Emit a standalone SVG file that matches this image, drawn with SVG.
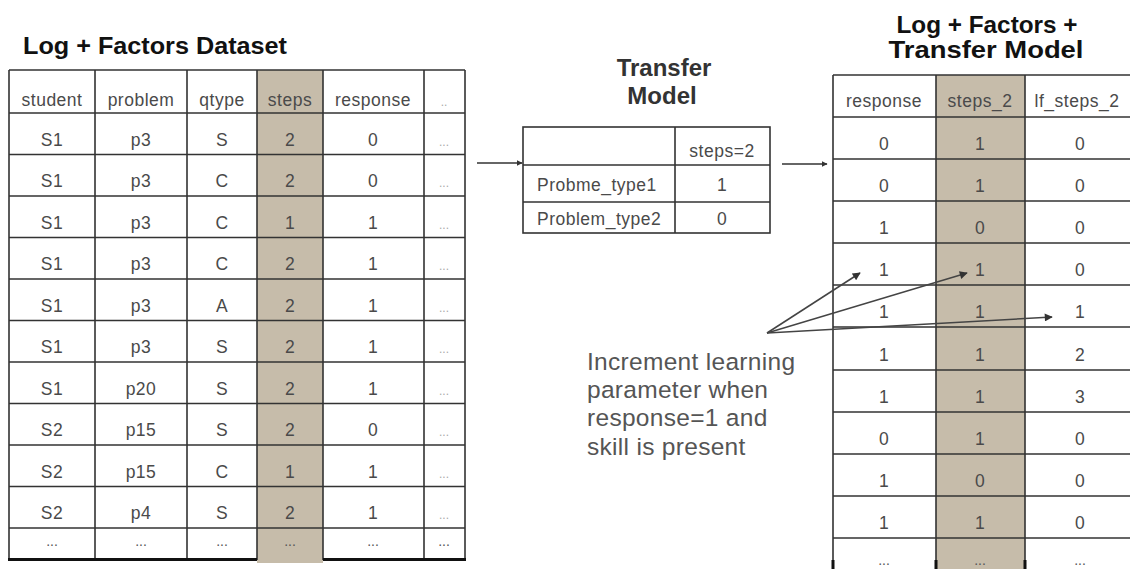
<svg xmlns="http://www.w3.org/2000/svg" width="1130" height="569" viewBox="0 0 1130 569">
<defs>
<style>
.title{font-family:"Liberation Sans",Arial,sans-serif;font-weight:bold;fill:#111;}
.t{font-family:"Liberation Sans",Arial,sans-serif;font-size:17.5px;fill:#4a4a4a;text-anchor:middle;letter-spacing:0.5px;}
.tl{font-family:"Liberation Sans",Arial,sans-serif;font-size:17.5px;fill:#4a4a4a;letter-spacing:0.5px;}
.d{font-family:"Liberation Sans",Arial,sans-serif;font-size:12px;fill:#aaa;text-anchor:middle;}
.dd{font-family:"Liberation Sans",Arial,sans-serif;font-size:14px;fill:#555;text-anchor:middle;}
.note{font-family:"Liberation Sans",Arial,sans-serif;font-size:24.5px;fill:#555;letter-spacing:0.3px;}
.shade{fill:#c6bcaa;}
.grid{stroke:#333;stroke-width:1.6;fill:none;}
.conn{stroke:#333;stroke-width:1.6;fill:none;}
.ann{stroke:#444;stroke-width:1.5;fill:none;}
</style>
<marker id="ah" viewBox="0 0 10 10" refX="9" refY="5" markerWidth="6" markerHeight="6" markerUnits="userSpaceOnUse" orient="auto">
<path d="M0,0 L10,5 L0,10 z" fill="#333"/>
</marker>
<marker id="ah2" viewBox="0 0 10 10" refX="9" refY="5" markerWidth="10" markerHeight="8" markerUnits="userSpaceOnUse" orient="auto">
<path d="M0,0 L10,5 L0,10 z" fill="#333"/>
</marker>
</defs>
<rect width="1130" height="569" fill="#fff"/>

<g id="dataset">
<text class="title" x="23" y="54" font-size="23" textLength="264" lengthAdjust="spacingAndGlyphs">Log + Factors Dataset</text>
<rect class="shade" x="257" y="70" width="66" height="493"/>
<g class="grid">
<path d="M9,70 H465 M9,113 H465 M9,154.5 H465 M9,196 H465 M9,237.5 H465 M9,279 H465 M9,320.5 H465 M9,362 H465 M9,403.5 H465 M9,445 H465 M9,486.5 H465 M9,528 H465"/>
<path d="M9,70 V560 M95,70 V560 M187,70 V560 M257,70 V560 M323,70 V560 M424,70 V560 M465,70 V560"/>
</g>
<path d="M8,559.5 H257 M323,559.5 H466" stroke="#111" stroke-width="3"/>
<g>
<text class="t" x="52" y="106">student</text><text class="t" x="141" y="106">problem</text><text class="t" x="222" y="106">qtype</text><text class="t" x="290" y="106">steps</text><text class="t" x="373" y="106">response</text><text class="d" x="444" y="106">..</text>
<text class="t" x="52" y="145.5">S1</text><text class="t" x="141" y="145.5">p3</text><text class="t" x="222" y="145.5">S</text><text class="t" x="290" y="145.5">2</text><text class="t" x="373" y="145.5">0</text><text class="d" x="444" y="145.5">...</text>
<text class="t" x="52" y="187">S1</text><text class="t" x="141" y="187">p3</text><text class="t" x="222" y="187">C</text><text class="t" x="290" y="187">2</text><text class="t" x="373" y="187">0</text><text class="d" x="444" y="187">...</text>
<text class="t" x="52" y="228.5">S1</text><text class="t" x="141" y="228.5">p3</text><text class="t" x="222" y="228.5">C</text><text class="t" x="290" y="228.5">1</text><text class="t" x="373" y="228.5">1</text><text class="d" x="444" y="228.5">...</text>
<text class="t" x="52" y="270">S1</text><text class="t" x="141" y="270">p3</text><text class="t" x="222" y="270">C</text><text class="t" x="290" y="270">2</text><text class="t" x="373" y="270">1</text><text class="d" x="444" y="270">...</text>
<text class="t" x="52" y="311.5">S1</text><text class="t" x="141" y="311.5">p3</text><text class="t" x="222" y="311.5">A</text><text class="t" x="290" y="311.5">2</text><text class="t" x="373" y="311.5">1</text><text class="d" x="444" y="311.5">...</text>
<text class="t" x="52" y="353">S1</text><text class="t" x="141" y="353">p3</text><text class="t" x="222" y="353">S</text><text class="t" x="290" y="353">2</text><text class="t" x="373" y="353">1</text><text class="d" x="444" y="353">...</text>
<text class="t" x="52" y="394.5">S1</text><text class="t" x="141" y="394.5">p20</text><text class="t" x="222" y="394.5">S</text><text class="t" x="290" y="394.5">2</text><text class="t" x="373" y="394.5">1</text><text class="d" x="444" y="394.5">...</text>
<text class="t" x="52" y="436">S2</text><text class="t" x="141" y="436">p15</text><text class="t" x="222" y="436">S</text><text class="t" x="290" y="436">2</text><text class="t" x="373" y="436">0</text><text class="d" x="444" y="436">...</text>
<text class="t" x="52" y="477.5">S2</text><text class="t" x="141" y="477.5">p15</text><text class="t" x="222" y="477.5">C</text><text class="t" x="290" y="477.5">1</text><text class="t" x="373" y="477.5">1</text><text class="d" x="444" y="477.5">...</text>
<text class="t" x="52" y="519">S2</text><text class="t" x="141" y="519">p4</text><text class="t" x="222" y="519">S</text><text class="t" x="290" y="519">2</text><text class="t" x="373" y="519">1</text><text class="d" x="444" y="519">...</text>
<text class="dd" x="52" y="546">...</text><text class="dd" x="141" y="546">...</text><text class="dd" x="222" y="546">...</text><text class="dd" x="290" y="546" fill="#999">...</text><text class="dd" x="373" y="546">...</text><text class="dd" x="444" y="546">...</text>
</g>
</g>

<g id="transfer-model">
<text class="title" x="664" y="76" font-size="24" text-anchor="middle" fill="#333" style="fill:#333">Transfer</text>
<text class="title" x="662" y="104" font-size="24" text-anchor="middle" style="fill:#333">Model</text>
<g class="grid">
<rect x="523" y="127" width="247" height="106"/>
<path d="M675,127 V233 M523,165 H770 M523,202 H770"/>
</g>
<text class="t" x="722" y="157">steps=2</text>
<text class="tl" x="537" y="191">Probme_type1</text><text class="t" x="722" y="191">1</text>
<text class="tl" x="537" y="225">Problem_type2</text><text class="t" x="722" y="225">0</text>
</g>

<g id="result">
<text class="title" x="987" y="33" font-size="24" text-anchor="middle" textLength="181" lengthAdjust="spacingAndGlyphs">Log + Factors +</text>
<text class="title" x="986" y="58" font-size="24" text-anchor="middle" textLength="195" lengthAdjust="spacingAndGlyphs">Transfer Model</text>
<rect class="shade" x="936" y="75" width="89" height="494"/>
<g class="grid">
<path d="M833,75 H1130 M833,117 H1130 M833,159 H1130 M833,201 H1130 M833,243 H1130 M833,285 H1130 M833,327 H1130 M833,370 H1130 M833,412 H1130 M833,454 H1130 M833,496 H1130 M833,538 H1130"/>
<path d="M833,75 V569 M936,75 V569 M1025,75 V569"/>
</g>
<path d="M833,560 V569 M936,560 V569 M1025,560 V569" stroke="#111" stroke-width="3"/>
<g>
<text class="t" x="884" y="107">response</text><text class="t" x="980" y="107">steps_2</text><text class="t" x="1077" y="107">lf_steps_2</text>
<text class="t" x="884" y="150">0</text><text class="t" x="980" y="150">1</text><text class="t" x="1080" y="150">0</text>
<text class="t" x="884" y="192">0</text><text class="t" x="980" y="192">1</text><text class="t" x="1080" y="192">0</text>
<text class="t" x="884" y="234">1</text><text class="t" x="980" y="234">0</text><text class="t" x="1080" y="234">0</text>
<text class="t" x="884" y="276">1</text><text class="t" x="980" y="276">1</text><text class="t" x="1080" y="276">0</text>
<text class="t" x="884" y="318">1</text><text class="t" x="980" y="318">1</text><text class="t" x="1080" y="318">1</text>
<text class="t" x="884" y="361">1</text><text class="t" x="980" y="361">1</text><text class="t" x="1080" y="361">2</text>
<text class="t" x="884" y="403">1</text><text class="t" x="980" y="403">1</text><text class="t" x="1080" y="403">3</text>
<text class="t" x="884" y="445">0</text><text class="t" x="980" y="445">1</text><text class="t" x="1080" y="445">0</text>
<text class="t" x="884" y="487">1</text><text class="t" x="980" y="487">0</text><text class="t" x="1080" y="487">0</text>
<text class="t" x="884" y="529">1</text><text class="t" x="980" y="529">1</text><text class="t" x="1080" y="529">0</text>
<text class="dd" x="884" y="565">...</text><text class="dd" x="980" y="565" fill="#999">...</text><text class="dd" x="1080" y="565">...</text>
</g>
</g>

<g id="note">
<text class="note" x="587" y="370">Increment learning</text>
<text class="note" x="587" y="398">parameter when</text>
<text class="note" x="587" y="426">response=1 and</text>
<text class="note" x="587" y="455">skill is present</text>
</g>

<g id="connectors">
<line class="conn" x1="477" y1="163" x2="522" y2="163" marker-end="url(#ah)"/>
<line class="conn" x1="782" y1="164" x2="827" y2="164" marker-end="url(#ah)"/>
<line class="ann" x1="767" y1="333" x2="860" y2="273" marker-end="url(#ah2)"/>
<line class="ann" x1="767" y1="333" x2="967" y2="273" marker-end="url(#ah2)"/>
<line class="ann" x1="767" y1="333" x2="1052" y2="317" marker-end="url(#ah2)"/>
</g>
</svg>
